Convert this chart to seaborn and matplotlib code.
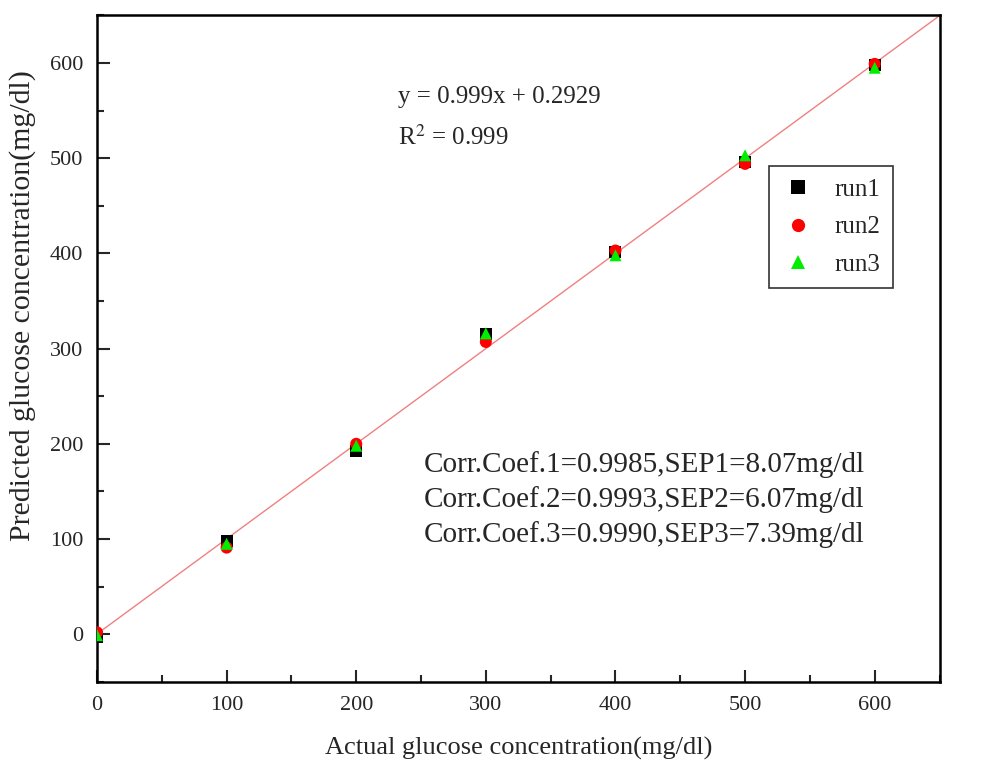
import numpy as np
import pandas as pd
import matplotlib
matplotlib.use("Agg")
import matplotlib.pyplot as plt
import seaborn as sns
from matplotlib.ticker import MultipleLocator

actual = [0, 100, 200, 300, 400, 500, 600]
run1 = [-3, 98, 192, 315, 401, 496, 598]
run2 = [2, 91, 200, 307, 403, 494, 599]
run3 = [-1, 95, 198, 316, 398, 503, 595]
runs = ["run1", "run2", "run3"]
slope, intercept = 0.999, 0.2929
fit_x = [0, 650]
corr_lines = ["Corr.Coef.1=0.9985,SEP1=8.07mg/dl",
              "Corr.Coef.2=0.9993,SEP2=6.07mg/dl",
              "Corr.Coef.3=0.9990,SEP3=7.39mg/dl"]

df = pd.DataFrame({
    "actual": actual * 3,
    "pred": run1 + run2 + run3,
    "run": [r for r in runs for _ in actual],
})

sns.set_style("white")
plt.rcParams["font.family"] = ["Liberation Serif", "DejaVu Serif"]
plt.rcParams["mathtext.fontset"] = "stix"

fig = plt.figure(figsize=(10.03, 7.67), dpi=100)
ax = fig.add_axes([0.0967, 0.111, 0.840, 0.869])

fit_y = [slope * x + intercept for x in fit_x]
ax.plot(fit_x, fit_y, color="#f08080", lw=1.0, zorder=1)

sns.scatterplot(data=df, x="actual", y="pred", hue="run", style="run",
                palette={"run1": "black", "run2": "red", "run3": "#00ee00"},
                markers={"run1": "s", "run2": "o", "run3": "^"},
                s=75, linewidth=0, ax=ax, zorder=3)

ax.set_xlim(0, 650)
ax.set_ylim(-50, 650)
ax.xaxis.set_major_locator(MultipleLocator(100))
ax.xaxis.set_minor_locator(MultipleLocator(50))
ax.yaxis.set_major_locator(MultipleLocator(100))
ax.yaxis.set_minor_locator(MultipleLocator(50))
ax.tick_params(which="major", direction="in", length=9, width=1.5, labelsize=16,
               bottom=True, left=True, top=False, right=False, pad=10)
ax.tick_params(which="minor", direction="in", length=5, width=1.5,
               bottom=True, left=True, top=False, right=False)
for sp in ax.spines.values():
    sp.set_linewidth(1.8)
    sp.set_color("black")

ax.set_xlabel("Actual glucose concentration(mg/dl)", fontsize=19, labelpad=16)
ax.set_ylabel("Predicted glucose concentration(mg/dl)", fontsize=21.5)
ax.yaxis.set_label_coords(-0.072, 0.565)

ax.text(232, 564, "y = 0.999x + 0.2929", fontsize=18, va="center", ha="left")
ax.text(232, 522, r"R$^2$ = 0.999", fontsize=18, va="center", ha="left")
for i, t in enumerate(corr_lines):
    ax.text(252, 178 - i * 36.5, t, fontsize=21, va="center", ha="left")

leg = ax.legend(loc="upper left", bbox_to_anchor=(0.798, 0.774), frameon=True,
                fontsize=18, markerscale=1.1, handlelength=1.3, handletextpad=0.8,
                borderpad=0.5, labelspacing=0.6, fancybox=False,
                borderaxespad=0)
leg.get_frame().set_edgecolor("black")
leg.get_frame().set_linewidth(1.2)

fig.savefig("out.png", dpi=100)
